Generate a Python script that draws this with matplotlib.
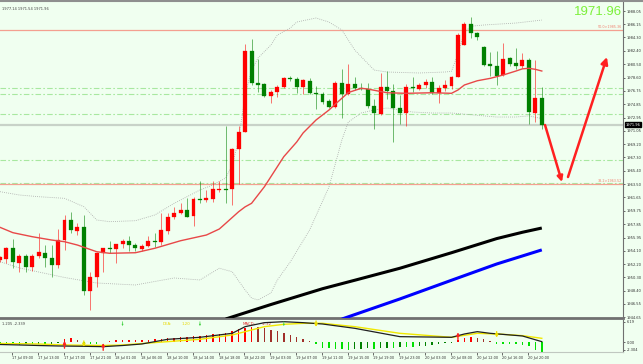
import matplotlib
matplotlib.use('Agg')
import matplotlib.pyplot as plt
import matplotlib.transforms as mtransforms
from matplotlib.lines import Line2D

# ---------------- data ----------------
opens = [1952.8,1952.9,1954.5,1952.3,1953.35,1951.8,1953.4,1953.8,1953.0,1952.05,
         1955.6,1958.4,1956.9,1957.4,1948.4,1950.3,1953.7,1954.4,1954.3,1955.0,
         1955.5,1954.9,1954.3,1954.8,1955.4,1955.3,1956.9,1958.8,1959.5,1959.85,
         1959.0,1961.4,1961.25,1961.4,1962.65,1962.9,1962.9,1968.45,1970.95,1982.4,
         1977.8,1977.65,1976.0,1976.55,1977.25,1978.5,1978.4,1977.25,1978.15,1976.4,
         1976.25,1975.3,1974.5,1977.9,1976.3,1977.7,1977.2,1976.95,1974.6,1973.45,
         1977.25,1976.75,1974.25,1973.55,1977.25,1977.0,1977.6,1978.05,1976.4,1977.1,
         1977.45,1978.75,1983.3,1986.2,1984.9,1983.0,1980.5,1980.25,1979.0,1981.35,
         1980.65,1980.25,1981.1,1973.65,1975.7]
highs = [1953.4,1954.65,1955.7,1953.6,1953.6,1953.6,1956.6,1954.9,1954.9,1957.1,
         1959.1,1959.6,1958.0,1959.1,1951.0,1953.9,1954.5,1955.4,1955.1,1955.8,
         1956.1,1955.2,1955.0,1956.1,1956.6,1959.4,1959.4,1960.3,1960.8,1961.5,
         1961.7,1963.9,1962.7,1963.9,1963.9,1971.8,1968.6,1971.75,1983.4,1984.05,
         1981.2,1977.9,1976.8,1977.6,1978.7,1978.8,1978.7,1978.4,1978.5,1977.4,
         1976.6,1975.6,1978.1,1979.8,1980.6,1978.75,1977.8,1977.8,1975.6,1979.3,
         1979.6,1977.7,1976.1,1977.7,1978.65,1977.9,1978.4,1978.7,1977.5,1978.3,
         1978.8,1985.0,1986.5,1987.2,1985.1,1983.1,1982.3,1982.4,1983.55,1981.6,
         1982.8,1982.1,1981.4,1981.1,1977.25]
lows = [1952.5,1952.3,1951.7,1951.1,1951.0,1951.25,1953.1,1951.8,1950.4,1951.7,
        1954.2,1956.6,1956.3,1947.8,1945.7,1948.95,1951.1,1953.7,1952.3,1954.5,
        1954.05,1954.05,1954.0,1954.6,1954.6,1954.9,1956.4,1958.6,1959.3,1958.9,
        1957.6,1960.9,1961.0,1961.0,1962.4,1960.8,1960.6,1963.5,1970.9,1977.5,
        1976.6,1975.9,1975.05,1975.9,1977.1,1978.1,1976.4,1976.3,1976.3,1974.2,
        1974.9,1974.3,1974.3,1972.85,1976.1,1976.9,1976.8,1974.3,1971.3,1973.3,
        1975.6,1969.5,1972.1,1971.75,1976.6,1976.9,1977.2,1976.3,1975.0,1976.7,
        1977.0,1978.7,1983.2,1984.2,1983.9,1980.2,1978.8,1977.6,1978.9,1980.3,
        1979.8,1980.0,1972.1,1972.35,1971.4]
closes = [1953.2,1954.4,1952.45,1953.35,1951.8,1953.4,1953.9,1953.0,1952.05,1955.6,
          1958.4,1957.0,1957.4,1948.4,1950.3,1953.8,1954.4,1954.3,1955.0,1955.4,
          1954.9,1954.5,1954.75,1955.4,1955.3,1956.95,1958.8,1959.5,1959.8,1958.9,
          1961.4,1961.3,1961.5,1962.8,1962.9,1962.7,1968.45,1970.95,1982.4,1977.8,
          1977.55,1976.05,1976.55,1977.3,1978.5,1978.4,1977.25,1978.3,1976.4,1976.25,
          1975.2,1974.5,1977.9,1976.3,1977.7,1977.2,1977.0,1974.6,1973.55,1977.25,
          1976.75,1974.25,1973.55,1977.25,1977.1,1977.6,1978.05,1976.4,1977.1,1977.5,
          1978.75,1984.65,1986.2,1984.9,1984.35,1980.4,1980.25,1978.85,1981.25,1980.55,
          1980.25,1981.1,1973.8,1975.7,1971.96]

ma_idx = [0,2,5,8,10,12,15,17,21,24,28,32,34,35,37,38,39,41,44,46,47,49,51,52,54,56,57,
          60,63,67,70,71,72,74,76,78,80,81,82,83,84]
ma_val = [1957.40,1956.64,1956.07,1955.60,1955.36,1954.89,1953.94,1953.72,1953.80,1954.43,
          1955.50,1956.31,1957.16,1957.97,1959.61,1960.30,1960.80,1963.16,1967.41,1969.49,
          1970.78,1972.61,1974.02,1974.87,1976.50,1977.10,1977.00,1976.47,1976.39,1976.47,
          1976.39,1976.86,1977.57,1978.17,1978.51,1978.98,1979.55,1979.86,1979.93,1979.79,
          1979.55]
bb_up_idx = [0,3,6,10,13,15,17,21,24,27,29,31,33,35,36,37,38,39,40,42,43,45,46,49,51,53,
             55,58,60,65,69,70,71,72,73,75,80,84]
bb_up_val = [1962.45,1961.98,1961.74,1961.51,1960.32,1958.44,1958.20,1958.34,1959.15,1960.80,
             1961.74,1962.69,1963.40,1964.39,1966.23,1969.77,1976.15,1979.69,1981.39,1983.23,
             1984.65,1985.64,1986.49,1987.06,1986.49,1985.36,1982.52,1979.69,1979.41,1979.27,
             1979.41,1979.50,1982.00,1985.00,1985.90,1986.07,1986.35,1986.77]
bb_lo_idx = [0,3,6,10,15,21,27,31,34,36,38,39,40,42,43,45,48,51,53,54,56,58,60,64,67,70,
             77,80,82,84]
bb_lo_val = [1952.53,1951.64,1951.07,1950.29,1949.51,1949.23,1950.22,1949.94,1951.60,1951.11,
             1948.52,1947.38,1947.10,1948.09,1949.94,1952.49,1957.02,1963.11,1969.77,1972.32,
             1973.60,1974.02,1974.31,1973.74,1973.60,1973.60,1973.03,1973.03,1973.20,1972.80]
ma_long_idx = [35,42,50,55,62,70,77,81,84]
ma_long_val = [1944.41,1946.46,1948.70,1949.90,1951.60,1953.80,1955.80,1956.70,1957.30]
ma_blue_idx = [53,62,70,77,84]
ma_blue_val = [1944.40,1947.25,1949.90,1952.20,1954.20]

fib_prices = [1985.36, 1963.52]
fib_labels = ['50.0>1985.36', '38.2>1963.52']
green_levels = [1977.18, 1976.25, 1973.41, 1966.94, 1963.62]
last_price = 1971.96
price_ticks = [1988.05,1986.15,1984.30,1982.40,1980.50,1978.60,1976.75,1974.85,1972.95,
               1971.05,1969.20,1967.30,1965.40,1963.50,1961.65,1959.75,1957.85,1955.95,
               1954.10,1952.20,1950.30,1948.40,1946.55,1944.65]

# forecast arrows (candle index, price)
arrow1_idx = [84.5, 87.13]
arrow1_price = [1971.90, 1963.82]
arrow2_idx = [88.06, 94.1]
arrow2_price = [1964.53, 1981.53]

# MACD panel
hist = [-0.5,-0.6,-0.6,-0.7,-0.6,-0.6,-0.5,-0.5,-0.4,-0.3,
        0.9,1.3,0.8,-0.2,-0.4,-0.5,0.2,
        0.5,0.6,0.6,0.7,0.7,0.7,0.8,0.9,1.0,1.2,1.4,1.5,1.7,1.9,2.0,2.2,2.4,2.6,2.9,3.4,3.9,4.4,4.6,
        4.5,4.2,3.8,3.3,2.8,2.3,1.7,1.1,
        0.3,-0.6,
        -1.8,-1.8,-2.0,-2.1,-2.3,-2.1,-2.0,-1.8,-2.0,-1.8,-1.6,-1.6,-1.3,-1.3,-1.3,-1.1,-1.0,-0.8,-0.6,-0.3,
        -0.1,
        0.6,1.2,1.5,1.3,1.0,0.3,
        -0.4,-0.5,-0.6,-0.6,-0.8,-1.2,
        -2.3,-2.8]
dif_idx = [0,3,6,9,13,16,19,22,26,31,36,38,41,44,47,50,55,62,70,72,74,76,81,84]
dif_val = [-0.66,-0.8,-0.96,-1.1,-1.2,-1.3,-0.96,-0.5,0.9,1.5,2.7,4.7,5.9,6.19,5.9,5.5,4.2,
           1.7,1.5,2.5,3.2,2.7,1.9,0.2]
dea_idx = [0,6,10,16,19,26,31,36,39,41,44,47,50,55,62,70,74,78,81,84]
dea_val = [-0.36,-0.5,-0.8,-0.96,-0.8,0.2,0.9,2.2,3.7,4.7,5.4,5.7,5.7,4.7,2.7,1.5,2.7,2.4,2.0,1.2]
up_arrow_idx = [10, 16, 71]
up_arrow_val = [-0.66, -1.3, 1.9]
dn_arrow_idx = [13, 49, 77]
dn_arrow_val = [-0.5, 5.5, 2.3]
small_dn_idx = [19, 31, 44]
macd_ticks = [6.19, 0.0, -2.304]
macd_tick_labels = ['6.19', '0.00', '-2.304']

xtick_idx = [2,6,10,14,18,22,26,30,34,38,42,46,50,54,58,62,66,70,74,78,82]
xtick_labels = ['17 Jul 09:00','17 Jul 13:00','17 Jul 17:00','17 Jul 21:00','18 Jul 01:00',
                '18 Jul 06:00','18 Jul 10:00','18 Jul 14:00','18 Jul 18:00','18 Jul 22:00',
                '19 Jul 03:00','19 Jul 07:00','19 Jul 11:00','19 Jul 15:00','19 Jul 19:00',
                '19 Jul 23:00','20 Jul 03:00','20 Jul 08:00','20 Jul 12:00','20 Jul 16:00',
                '20 Jul 20:00']

# ---------------- figure ----------------
W, H = 643, 364
BG = '#F0FFF0'
UP = '#FF0000'
DN = '#008000'
fig = plt.figure(figsize=(W / 100, H / 100), dpi=100)
fig.patch.set_facecolor(BG)

def rect(l, t, r, b):
    return [l / W, 1 - b / H, (r - l) / W, (b - t) / H]

ax = fig.add_axes(rect(0, 2, 623, 318))
axm = fig.add_axes(rect(0, 320, 623, 352))
for a in (ax, axm):
    a.set_facecolor(BG)
    a.set_xlim(0, 623 / 6.45)
    a.spines['top'].set_visible(False)
    a.spines['left'].set_visible(False)
    a.spines['right'].set_color('#707070')
    a.spines['right'].set_linewidth(0.8)
ax.spines['bottom'].set_color('#707070')
ax.spines['bottom'].set_linewidth(2.0)
axm.spines['bottom'].set_color('#C0C8C0')
axm.spines['bottom'].set_linewidth(0.8)
ax.set_ylim(1944.55, 1989.33)
axm.set_ylim(-2.91, 6.70)

# horizontal levels
for p in green_levels:
    ax.axhline(p, color='#A8E8A0', lw=0.8, dashes=(5, 2, 1.5, 2), zorder=1)
for p, lab in zip(fib_prices, fib_labels):
    ax.axhline(p, color='#F4A090', lw=0.9, zorder=1)
    ax.text(0.999, p + 0.15, lab, transform=mtransforms.blended_transform_factory(ax.transAxes, ax.transData),
            ha='right', va='bottom', fontsize=2.4, color='#F08070')
ax.axhline(last_price, color='#C8D2C8', lw=1.6, zorder=1)

# overlays
ax.plot(bb_up_idx, bb_up_val, color='#A8A8A8', lw=0.6, ls=(0, (1, 1.5)), zorder=2)
ax.plot(bb_lo_idx, bb_lo_val, color='#A8A8A8', lw=0.6, ls=(0, (1, 1.5)), zorder=2)
ax.plot(ma_idx, ma_val, color='#E84848', lw=1.0, zorder=4)
ax.plot(ma_long_idx, ma_long_val, color='#000000', lw=2.2, zorder=4, solid_capstyle='butt')
ax.plot(ma_blue_idx, ma_blue_val, color='#0000FF', lw=2.2, zorder=4, solid_capstyle='butt')

# candles
for i, (o, h, l, c) in enumerate(zip(opens, highs, lows, closes)):
    col = UP if c >= o else DN
    ax.vlines(i, l, h, color=col, lw=0.7, alpha=0.55, zorder=3)
    ax.bar(i, max(abs(c - o), 0.16), bottom=min(o, c), width=0.62, color=col,
           edgecolor=col, lw=0.2, zorder=3)

# forecast arrows
ax.annotate('', xy=(arrow1_idx[1], arrow1_price[1]), xytext=(arrow1_idx[0], arrow1_price[0]),
            arrowprops=dict(arrowstyle='-|>', color='#FF2020', lw=1.8, mutation_scale=8,
                            shrinkA=0, shrinkB=0), zorder=6)
ax.annotate('', xy=(arrow2_idx[1], arrow2_price[1]), xytext=(arrow2_idx[0], arrow2_price[0]),
            arrowprops=dict(arrowstyle='-|>', color='#FF2020', lw=1.8, mutation_scale=10,
                            shrinkA=0, shrinkB=0), zorder=6)

# price axis
ax.yaxis.tick_right()
ax.set_yticks(price_ticks)
ax.set_yticklabels([f'{p:.2f}' for p in price_ticks])
ax.tick_params(axis='y', labelsize=2.6, length=1.5, width=0.5, pad=1, colors='#303030')
ax.tick_params(axis='x', bottom=False, labelbottom=False)
ax.text(1.004, last_price, f'{last_price:.2f}',
        transform=mtransforms.blended_transform_factory(ax.transAxes, ax.transData),
        ha='left', va='center', fontsize=2.6, color='white',
        bbox=dict(boxstyle='square,pad=0.25', fc='black', ec='black'), zorder=10, clip_on=False)

# texts
ax.text(0.003, 0.985, '1977.14 1971.54 1971.96', transform=ax.transAxes, fontsize=2.6,
        color='#404040', ha='left', va='top')
ax.text(0.998, 0.987, f'{last_price:.2f}', transform=ax.transAxes, fontsize=9.5,
        family='Liberation Sans', color='#7CF03A', ha='right', va='top')

# MACD panel
colors = []
for i, v in enumerate(hist):
    prev = hist[i - 1] if i > 0 else v
    if v >= 0:
        colors.append('#FF0000' if v >= prev else '#A0302A')
    else:
        colors.append('#00E000' if v <= prev else '#008000')
axm.bar(range(len(hist)), hist, width=0.22, color=colors, zorder=2)
axm.plot(dea_idx, dea_val, color='#F0E800', lw=1.0, zorder=3)
axm.plot(dif_idx, dif_val, color='#202020', lw=0.9, zorder=4)
for i, v in zip(up_arrow_idx, up_arrow_val):
    axm.annotate('', xy=(i, v + 1.1), xytext=(i, v - 1.1),
                 arrowprops=dict(arrowstyle='-|>', color='#FF2020', lw=1.0, mutation_scale=4,
                                 shrinkA=0, shrinkB=0), zorder=5)
for i, v in zip(dn_arrow_idx, dn_arrow_val):
    axm.annotate('', xy=(i, v - 0.9), xytext=(i, v + 0.9),
                 arrowprops=dict(arrowstyle='-|>', color='#F0E000', lw=1.0, mutation_scale=4,
                                 shrinkA=0, shrinkB=0), zorder=5)
for i in small_dn_idx:
    axm.annotate('', xy=(i, 4.9), xytext=(i, 6.2),
                 arrowprops=dict(arrowstyle='-|>', color='#40D040', lw=0.5, mutation_scale=2,
                                 shrinkA=0, shrinkB=0), zorder=5)
axm.text(0.004, 0.93, '1.205 -2.339', transform=axm.transAxes, fontsize=2.6, color='#404040',
         ha='left', va='top')
axm.text(163 / 623, 0.93, 'DEA:', transform=axm.transAxes, fontsize=2.8, color='#E8D800',
         ha='left', va='top')
axm.text(182 / 623, 0.93, '1.20', transform=axm.transAxes, fontsize=2.8, color='#E8D800',
         ha='left', va='top')
axm.text(243 / 623, 0.93, 'MACD:', transform=axm.transAxes, fontsize=2.8, color='#E03030',
         ha='left', va='top')
axm.text(262 / 623, 0.93, '-2.32', transform=axm.transAxes, fontsize=2.8, color='#E03030',
         ha='left', va='top')

axm.yaxis.tick_right()
axm.set_yticks(macd_ticks)
axm.set_yticklabels(macd_tick_labels)
axm.tick_params(axis='y', labelsize=2.6, length=1.5, width=0.5, pad=1, colors='#303030')
axm.set_xticks([i - 0.1 for i in xtick_idx])
axm.set_xticklabels(xtick_labels, ha='left')
axm.tick_params(axis='x', labelsize=2.5, length=2, width=0.5, pad=1.2, colors='#303030')

fig.add_artist(Line2D([0, 1], [1 - 1 / H, 1 - 1 / H], transform=fig.transFigure,
                      color='#8F8F8F', lw=1.5))

fig.savefig('out.png', dpi=100, facecolor=BG)
